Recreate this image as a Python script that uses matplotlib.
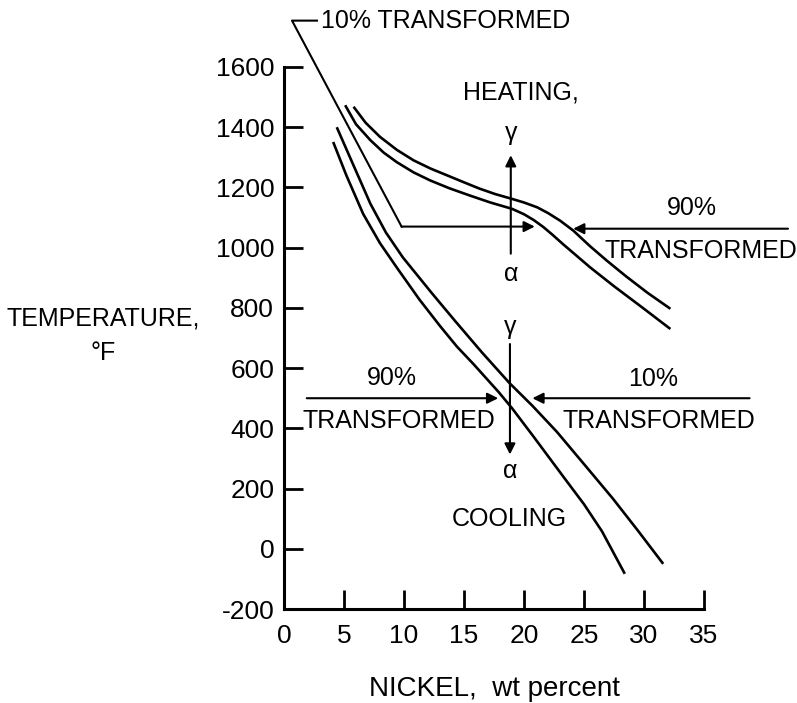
import matplotlib
matplotlib.use('Agg')
import matplotlib.pyplot as plt

plt.rcParams['font.family'] = ['Liberation Sans', 'DejaVu Sans']
plt.rcParams['axes.unicode_minus'] = False

# heating curves (wt% Ni, deg F)
heat_90_x = [5.8, 6.8, 8.0, 9.4, 10.8, 12.2, 13.6, 15.0, 16.3, 17.6, 19.0, 20.0, 21.1,
             22.0, 23.0, 24.1, 25.5, 26.9, 28.5, 30.3, 32.2]
heat_90_y = [1468, 1415, 1368, 1325, 1290, 1263, 1240, 1217, 1196, 1178, 1162, 1150, 1134,
             1115, 1090, 1057, 1005, 957, 905, 850, 797]
heat_10_x = [5.1, 6.0, 7.2, 8.3, 9.4, 10.8, 12.2, 13.8, 15.5, 17.2, 19.0, 20.0, 20.8,
             21.6, 22.4, 23.3, 24.3, 25.5, 27.5, 30.0, 32.2]
heat_10_y = [1473, 1410, 1357, 1316, 1284, 1250, 1223, 1197, 1173, 1150, 1129, 1111, 1092,
             1069, 1042, 1010, 976, 935, 872, 797, 730]

# cooling curves
cool_10_x = [4.4, 5.5, 7.2, 8.5, 9.9, 12.3, 14.25, 16.5, 18.8, 20.7, 22.75, 25.3, 27.4, 29.5, 31.6]
cool_10_y = [1400, 1300, 1146, 1050, 968, 850, 757, 652, 550, 475, 388, 267, 167, 60, -50]
cool_90_x = [4.1, 5.2, 6.6, 8.0, 9.4, 11.3, 13.0, 14.4, 15.8, 17.9, 19.0, 20.75, 23.4, 25.0, 26.5, 28.4]
cool_90_y = [1351, 1240, 1112, 1015, 934, 827, 740, 672, 613, 520, 467, 375, 233, 148, 58, -83]

x_ticks = [0, 5, 10, 15, 20, 25, 30, 35]
y_ticks = [-200, 0, 200, 400, 600, 800, 1000, 1200, 1400, 1600]

fig = plt.figure(figsize=(7.97, 7.03), dpi=100)
ax = fig.add_axes([0.3563, 0.1337, 0.5270, 0.7710])

lw = 1.9
for xs, ys in [(heat_90_x, heat_90_y), (heat_10_x, heat_10_y),
               (cool_10_x, cool_10_y), (cool_90_x, cool_90_y)]:
    ax.plot(xs, ys, color='black', lw=lw, solid_capstyle='butt')

ax.set_xlim(0, 35)
ax.set_ylim(-200, 1600)
ax.set_xticks(x_ticks)
ax.set_yticks(y_ticks)
for s in ['top', 'right']:
    ax.spines[s].set_visible(False)
for s in ['left', 'bottom']:
    ax.spines[s].set_linewidth(2.2)
ax.tick_params(direction='in', length=14, width=2.0, labelsize=19)
ax.tick_params(axis='x', pad=11)
ax.tick_params(axis='y', pad=7)

fs = 18
ax.set_xlabel('NICKEL,  wt percent', fontsize=20, labelpad=20)
fig.text(0.129, 0.522, 'TEMPERATURE,\n°F', fontsize=fs, ha='center', va='center',
         linespacing=1.55)

arrow = dict(arrowstyle='-|>', color='black', lw=1.5, mutation_scale=16,
             shrinkA=0, shrinkB=0)

# heating: 10 % leader and arrows
ax.plot([2.75, 0.67, 9.8], [1754, 1754, 1070], color='black', lw=1.5, clip_on=False)
ax.annotate('', xy=(20.9, 1070), xytext=(9.8, 1070), arrowprops=arrow, annotation_clip=False)
ax.text(3.1, 1754, '10% TRANSFORMED', fontsize=fs, va='center', ha='left')
ax.annotate('', xy=(24.1, 1063), xytext=(42.0, 1063), arrowprops=arrow, annotation_clip=False)
ax.text(34.0, 1133, '90%', fontsize=fs, ha='center', va='center')
ax.text(34.7, 990, 'TRANSFORMED', fontsize=fs, ha='center', va='center')
ax.text(19.7, 1515, 'HEATING,', fontsize=fs, ha='center', va='center')
ax.annotate('', xy=(18.9, 1307), xytext=(18.9, 980), arrowprops=arrow)
ax.text(18.9, 1380, 'γ', fontsize=fs, ha='center', va='center')
ax.text(18.9, 913, 'α', fontsize=fs, ha='center', va='center')

# cooling
ax.annotate('', xy=(17.85, 500), xytext=(1.9, 500), arrowprops=arrow)
ax.text(9.0, 567, '90%', fontsize=fs, ha='center', va='center')
ax.text(9.6, 423, 'TRANSFORMED', fontsize=fs, ha='center', va='center')
ax.annotate('', xy=(20.7, 500), xytext=(38.8, 500), arrowprops=arrow, annotation_clip=False)
ax.text(30.8, 563, '10%', fontsize=fs, ha='center', va='center')
ax.text(31.25, 423, 'TRANSFORMED', fontsize=fs, ha='center', va='center')
ax.annotate('', xy=(18.83, 313), xytext=(18.83, 680), arrowprops=arrow)
ax.text(18.83, 735, 'γ', fontsize=fs, ha='center', va='center')
ax.text(18.83, 257, 'α', fontsize=fs, ha='center', va='center')
ax.text(18.8, 100, 'COOLING', fontsize=fs, ha='center', va='center')

fig.savefig('out.png', dpi=100)
